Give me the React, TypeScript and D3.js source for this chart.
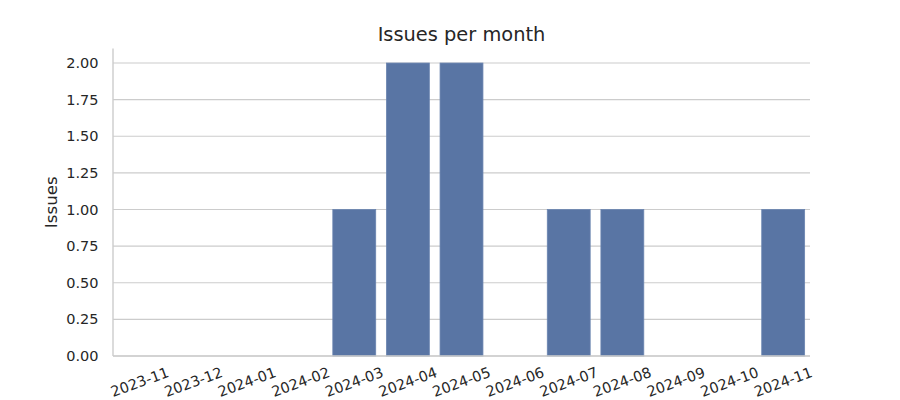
import React from "react";
import * as d3 from "d3";

const months = [
  "2023-11", "2023-12", "2024-01", "2024-02", "2024-03", "2024-04", "2024-05",
  "2024-06", "2024-07", "2024-08", "2024-09", "2024-10", "2024-11",
];
const issues = [0, 0, 0, 0, 1, 2, 2, 0, 1, 1, 0, 0, 1];
const yTicks = [0, 0.25, 0.5, 0.75, 1.0, 1.25, 1.5, 1.75, 2.0];

const W = 900;
const H = 400;
const left = 113;
const right = 810;
const top = 48.4;
const bottom = 356;
const font = "'DejaVu Sans', sans-serif";
const textColor = "#262626";
const gridColor = "#cccccc";

export default function App() {
  const x = d3.scaleBand<string>().domain(months).range([left, right]).paddingInner(0.2).paddingOuter(0.1);
  const y = d3.scaleLinear().domain([0, 2.1]).range([bottom, top]);

  return (
    <svg width={W} height={H} style={{ position: "absolute", left: 0, top: 0, display: "block", background: "#fff" }} fontFamily={font}>
      {yTicks.map((t) => (
        <g key={t}>
          <line x1={left} x2={right} y1={y(t)} y2={y(t)} stroke={gridColor} strokeWidth={1.1} />
          <text x={98.5} y={y(t)} textAnchor="end" dominantBaseline="central" fontSize={14.5} fill={textColor}>
            {t.toFixed(2)}
          </text>
        </g>
      ))}
      {months.map((m, i) => (
        <rect
          key={m}
          x={x(m)!}
          y={y(issues[i])}
          width={x.bandwidth()}
          height={bottom - y(issues[i])}
          fill="#5975a4"
          stroke="#6a84b0"
          strokeWidth={0.8}
        />
      ))}
      <line x1={left} x2={left} y1={top} y2={bottom} stroke={gridColor} strokeWidth={1.4} />
      <line x1={left} x2={right} y1={bottom} y2={bottom} stroke={gridColor} strokeWidth={1.4} />
      {months.map((m) => {
        const cx = x(m)! + x.bandwidth() / 2;
        const cy = 382;
        return (
          <text
            key={m}
            x={cx}
            y={cy}
            textAnchor="middle"
            dominantBaseline="central"
            fontSize={14.5}
            fill={textColor}
            transform={`rotate(-20, ${cx}, ${cy})`}
          >
            {m}
          </text>
        );
      })}
      <text
        x={51}
        y={(top + bottom) / 2}
        textAnchor="middle"
        dominantBaseline="central"
        fontSize={16.7}
        fill={textColor}
        transform={`rotate(-90, 51, ${(top + bottom) / 2})`}
      >
        Issues
      </text>
      <text x={(left + right) / 2} y={34} textAnchor="middle" dominantBaseline="central" fontSize={19.4} fill={textColor}>
        Issues per month
      </text>
    </svg>
  );
}
